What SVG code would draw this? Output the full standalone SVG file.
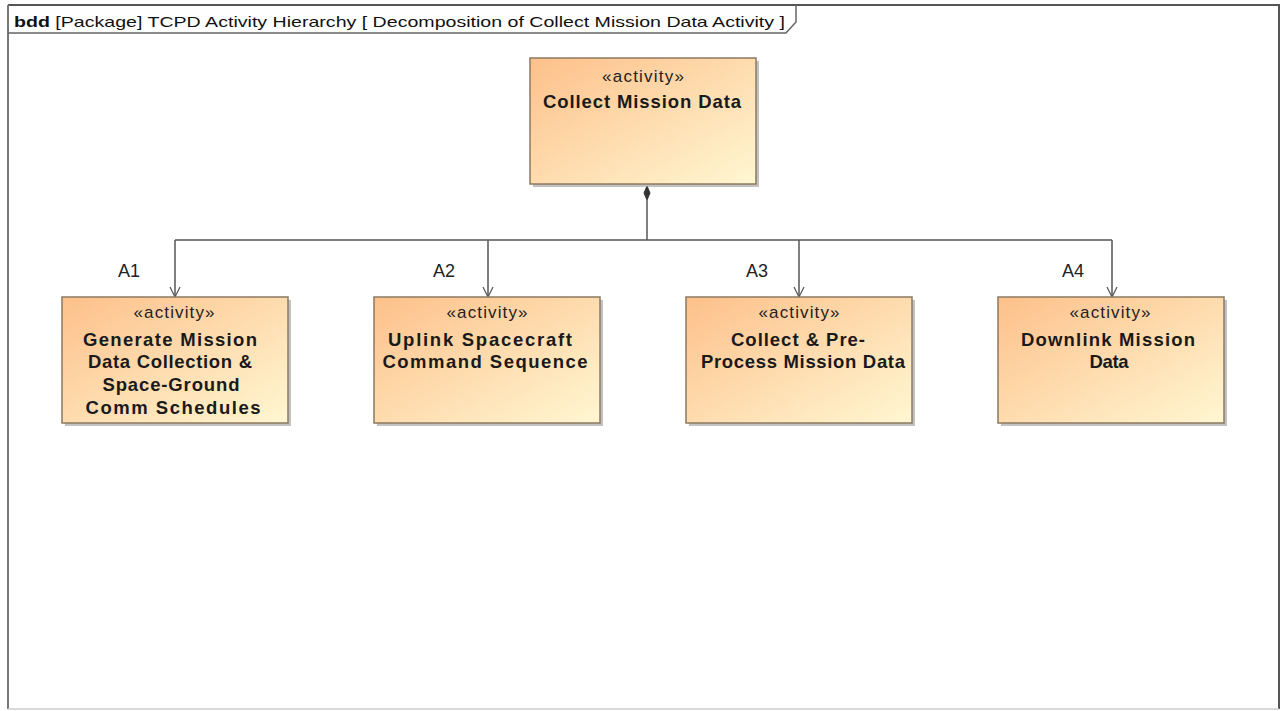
<svg xmlns="http://www.w3.org/2000/svg" width="1281" height="711" viewBox="0 0 1281 711">
  <defs>
    <linearGradient id="blockFill" x1="0" y1="0" x2="1" y2="1">
      <stop offset="0" stop-color="#FDC08A"/>
      <stop offset="1" stop-color="#FFF7D2"/>
    </linearGradient>
    <marker id="openArrow" viewBox="0 0 12 12" refX="11" refY="6" markerWidth="12" markerHeight="12" markerUnits="userSpaceOnUse" orient="auto">
      <path d="M1,1 L11,6 L1,11" fill="none" stroke="#555" stroke-width="1.2"/>
    </marker>
    <style>
      .frame { fill: none; stroke: #666; stroke-width: 1.5; }
      .block { fill: url(#blockFill); stroke: #8C7A60; stroke-width: 1.5; }
      .shadow { fill: #999; opacity: 0.6; }
      .stereo { font-family: "Liberation Sans", Arial, sans-serif; font-size: 17px; fill: #222; text-anchor: middle; }
      .name { font-family: "Liberation Sans", Arial, sans-serif; font-size: 18.5px; font-weight: bold; fill: #1a1a1a; text-anchor: middle; }
      .role { font-family: "Liberation Sans", Arial, sans-serif; font-size: 18px; fill: #222; }
      .conn { fill: none; stroke: #555; stroke-width: 1.5; }
      .hdr { font-family: "Liberation Sans", Arial, sans-serif; font-size: 15px; fill: #111; }
    </style>
  </defs>

  <rect width="1281" height="711" fill="#fff"/>

  <!-- diagram frame with name tab -->
  <g id="frame">
    <path d="M8,5 L1279,5 L1279,709" fill="none" stroke="#555" stroke-width="2"/>
    <path d="M8,5 L8,709" fill="none" stroke="#777" stroke-width="2"/>
    <path d="M8,709 L1279,709" fill="none" stroke="#ccc" stroke-width="1.5"/>
    <path d="M8,33 L786,33 L796,22 L796,5" class="frame"/>
    <text x="14" y="27" class="hdr" textLength="771" lengthAdjust="spacingAndGlyphs"><tspan font-weight="bold">bdd</tspan> [Package] TCPD Activity Hierarchy [ Decomposition of Collect Mission Data Activity ]</text>
  </g>

  <!-- composition connectors -->
  <g id="connectors">
    <path d="M647,200 L647,240" class="conn"/>
    <path d="M647,186 L650,193 L647,200 L644,193 Z" fill="#333" stroke="#333" stroke-width="1"/>
    <path d="M175,240 L1112,240" class="conn"/>
    <path d="M175,240 L175,297" class="conn" marker-end="url(#openArrow)"/>
    <path d="M488,240 L488,297" class="conn" marker-end="url(#openArrow)"/>
    <path d="M799,240 L799,297" class="conn" marker-end="url(#openArrow)"/>
    <path d="M1112,240 L1112,297" class="conn" marker-end="url(#openArrow)"/>
    <text x="118" y="277" class="role">A1</text>
    <text x="433" y="277" class="role">A2</text>
    <text x="746" y="277" class="role">A3</text>
    <text x="1062" y="277" class="role">A4</text>
  </g>

  <g id="collect-mission-data">
    <rect x="533" y="61" width="226" height="126" class="shadow"/>
    <rect x="530" y="58" width="226" height="126" class="block"/>
    <text x="643" y="82" class="stereo" textLength="82">«activity»</text>
    <text x="642" y="108" class="name" textLength="198">Collect Mission Data</text>
  </g>

  <g id="a1-generate-schedules">
    <rect x="65" y="300" width="226" height="126" class="shadow"/>
    <rect x="62" y="297" width="226" height="126" class="block"/>
    <text x="174" y="318" class="stereo" textLength="81">«activity»</text>
    <text x="170" y="346" class="name" textLength="174">Generate Mission</text>
    <text x="170" y="368" class="name" textLength="164">Data Collection &amp;</text>
    <text x="171" y="391" class="name" textLength="137">Space-Ground</text>
    <text x="173" y="414" class="name" textLength="175">Comm Schedules</text>
  </g>

  <g id="a2-uplink-command-sequence">
    <rect x="377" y="300" width="226" height="126" class="shadow"/>
    <rect x="374" y="297" width="226" height="126" class="block"/>
    <text x="487" y="318" class="stereo" textLength="81">«activity»</text>
    <text x="480" y="346" class="name" textLength="184">Uplink Spacecraft</text>
    <text x="485" y="368" class="name" textLength="205">Command Sequence</text>
  </g>

  <g id="a3-collect-preprocess">
    <rect x="689" y="300" width="226" height="126" class="shadow"/>
    <rect x="686" y="297" width="226" height="126" class="block"/>
    <text x="799" y="318" class="stereo" textLength="81">«activity»</text>
    <text x="798" y="346" class="name" textLength="134">Collect &amp; Pre-</text>
    <text x="803" y="368" class="name" textLength="204">Process Mission Data</text>
  </g>

  <g id="a4-downlink-mission-data">
    <rect x="1001" y="300" width="226" height="126" class="shadow"/>
    <rect x="998" y="297" width="226" height="126" class="block"/>
    <text x="1110" y="318" class="stereo" textLength="81">«activity»</text>
    <text x="1108" y="346" class="name" textLength="174">Downlink Mission</text>
    <text x="1109" y="368" class="name" textLength="39">Data</text>
  </g>
</svg>
